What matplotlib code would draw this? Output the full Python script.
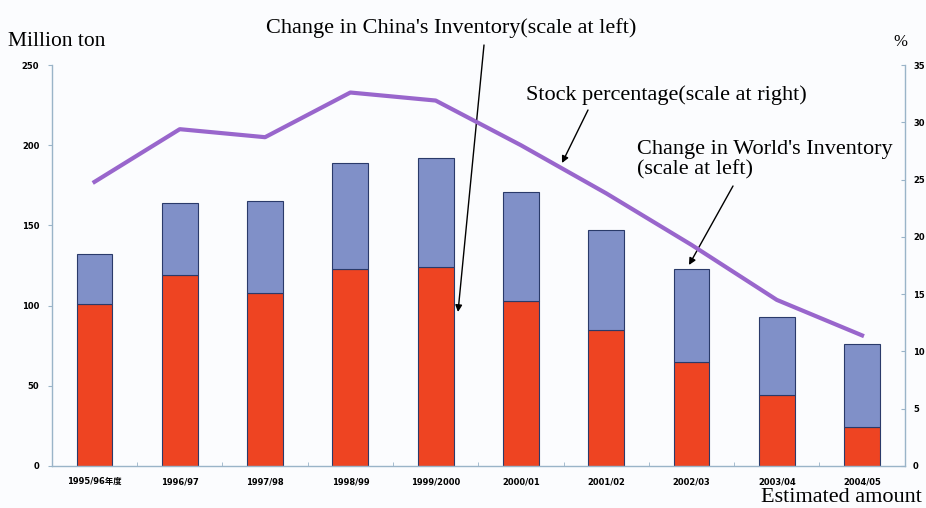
import numpy as np
import matplotlib
matplotlib.use("Agg")
import matplotlib.pyplot as plt

# data
years = ['1995/96年度', '1996/97', '1997/98', '1998/99', '1999/2000',
         '2000/01', '2001/02', '2002/03', '2003/04', '2004/05']
china = [101, 119, 108, 123, 124, 103, 85, 65, 44, 24]
world_total = [132, 164, 165, 189, 192, 171, 147, 123, 93, 76]
stock_pct = [24.8, 29.4, 28.7, 32.6, 31.9, 28.0, 23.8, 19.3, 14.5, 11.4]

world_rest = [t - c for t, c in zip(world_total, china)]

bg = '#fbfcfe'
axis_col = '#9ab4c8'
red = '#ee4422'
blue = '#8090c8'
purple = '#9966cc'

tick_font = dict(family=['DejaVu Sans', 'Noto Sans CJK JP'], weight='bold', size=6)
serif = ['Liberation Serif', 'DejaVu Serif']

fig = plt.figure(figsize=(9.26, 5.08), dpi=100, facecolor=bg)
ax = fig.add_axes([0.056, 0.0827, 0.921, 0.7893])
ax.set_facecolor(bg)
ax2 = ax.twinx()

x = np.arange(len(years))
w = 0.42
ax.bar(x, china, width=w, color=red, edgecolor='#2a3a6a', linewidth=0.8, zorder=2)
ax.bar(x, world_rest, width=w, bottom=china, color=blue, edgecolor='#2a3a6a',
       linewidth=0.8, zorder=2)

ax2.plot(x, stock_pct, color=purple, linewidth=3, zorder=3)

ax.set_xlim(-0.5, len(years) - 0.5)
ax.set_ylim(0, 250)
ax2.set_ylim(0, 35)
ax.set_yticks(range(0, 251, 50))
ax2.set_yticks(range(0, 36, 5))
ax.set_xticks(x)
ax.set_xticks(np.arange(-0.5, len(years), 1), minor=True)

for a in (ax, ax2):
    a.spines['top'].set_visible(False)
    for s in ('left', 'right', 'bottom'):
        a.spines[s].set_color(axis_col)
        a.spines[s].set_linewidth(1.0)
ax.spines['right'].set_visible(False)
ax2.spines['left'].set_visible(False)
ax2.spines['bottom'].set_visible(False)

ax.set_xticklabels(years, fontdict=tick_font)
ax.set_yticklabels([str(v) for v in range(0, 251, 50)], fontdict=tick_font)
ax2.set_yticklabels([str(v) for v in range(0, 36, 5)], fontdict=tick_font)
ax.tick_params(axis='x', which='major', length=0, pad=8)
ax.tick_params(axis='x', which='minor', direction='in', length=3, color=axis_col)
ax.tick_params(axis='y', direction='out', length=3, color=axis_col, pad=6)
ax2.tick_params(axis='y', direction='in', length=3, color=axis_col, pad=6)

# texts and arrows, in figure pixels
def fx(px):
    return px / 926


def fy(py):
    return 1 - py / 508


fig.text(fx(8), fy(42), 'Million ton', family=serif, fontsize=15.5, va='center')
fig.text(fx(900), fy(42), '%', family=serif, fontsize=12, va='center', ha='center')
fig.text(fx(922), fy(498), 'Estimated amount', family=serif, fontsize=16,
         va='center', ha='right')

labels = [
    ("Change in China's Inventory(scale at left)", 451, 28, (484, 45), (458, 312)),
    ("Stock percentage(scale at right)", 666, 95, (588, 110), (562, 163)),
    ("Change in World's Inventory\n(scale at left)", 637, 160, (733, 186), (689, 265)),
]
for txt, tx, ty, p0, p1 in labels:
    ha = 'left' if '\n' in txt else 'center'
    fig.text(fx(tx), fy(ty), txt, family=serif, fontsize=16, va='center', ha=ha,
             linespacing=1.05)
    ax.annotate('', xy=(fx(p1[0]), fy(p1[1])), xycoords='figure fraction',
                xytext=(fx(p0[0]), fy(p0[1])), textcoords='figure fraction',
                arrowprops=dict(arrowstyle='-|>', color='black', lw=1.0,
                                mutation_scale=10, shrinkA=0, shrinkB=0))

fig.savefig('out.png', dpi=100, facecolor=bg)
